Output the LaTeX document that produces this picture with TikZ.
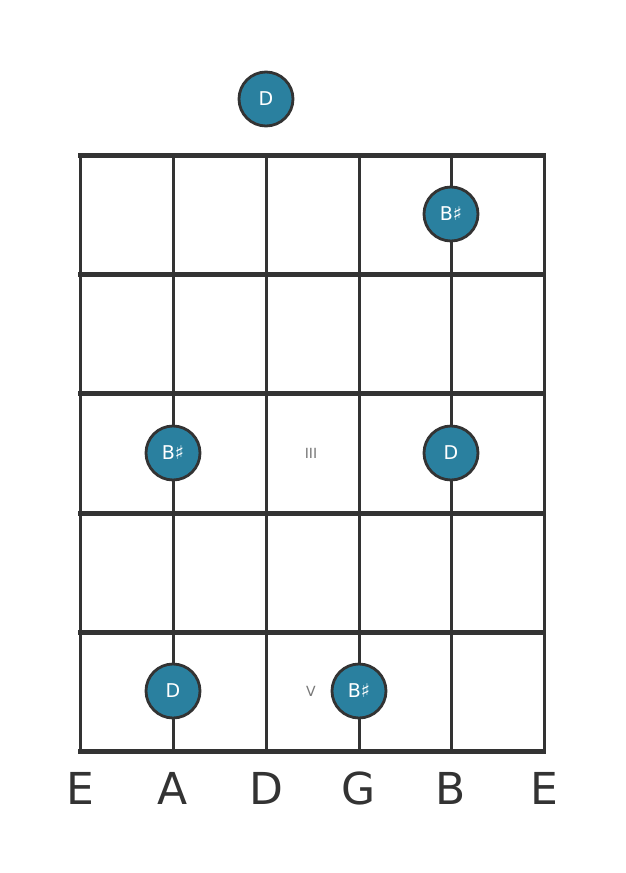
\documentclass[tikz,border=0pt]{standalone}
\usepackage{fontspec}
\setmainfont{DejaVu Sans}
\definecolor{linec}{HTML}{333333}
\definecolor{notec}{HTML}{2A809F}
\definecolor{markc}{HTML}{777777}
\begin{document}
\begin{tikzpicture}[x=1pt,y=-1pt,
  fret/.style={draw=linec,line width=5pt},
  strg/.style={draw=linec,line width=3pt},
  note/.style={circle,fill=notec,draw=linec,line width=2.8pt,minimum size=54pt,inner sep=0pt,text=white,font=\fontsize{19}{19}\selectfont},
  lbl/.style={text=linec,font=\fontsize{44}{44}\selectfont},
  fretmark/.style={text=markc,font=\fontsize{14}{14}\selectfont}]
\useasboundingbox[fill=white] (0,0) rectangle (626,873);
\foreach \i/\x in {0/80,1/173,2/266,3/359,4/451,5/544}{
  \coordinate (s\i) at (\x,155);
  \coordinate (e\i) at (\x,751);
  \draw[strg] (s\i) -- (e\i);
}
\foreach \j/\y in {0/155,1/274,2/393,3/513,4/632,5/751}{
  \coordinate (fl\j) at (78,\y);
  \coordinate (fr\j) at (546,\y);
  \draw[fret] (fl\j) -- (fr\j);
}
\node[fretmark] (m3) at (311,453) {III};
\node[fretmark] (m5) at (311,691) {V};
\node[note] (n0) at (266,99) {D};
\node[note] (n1) at (451,214) {B♯};
\node[note] (n2) at (173,453) {B♯};
\node[note] (n3) at (451,453) {D};
\node[note] (n4) at (173,691) {D};
\node[note] (n5) at (359,691) {B♯};
\foreach \i/\x/\t in {0/80/E,1/173/A,2/266/D,3/359/G,4/451/B,5/544/E}{
  \node[lbl] (l\i) at (\x,788) {\t};
}
\end{tikzpicture}
\end{document}
